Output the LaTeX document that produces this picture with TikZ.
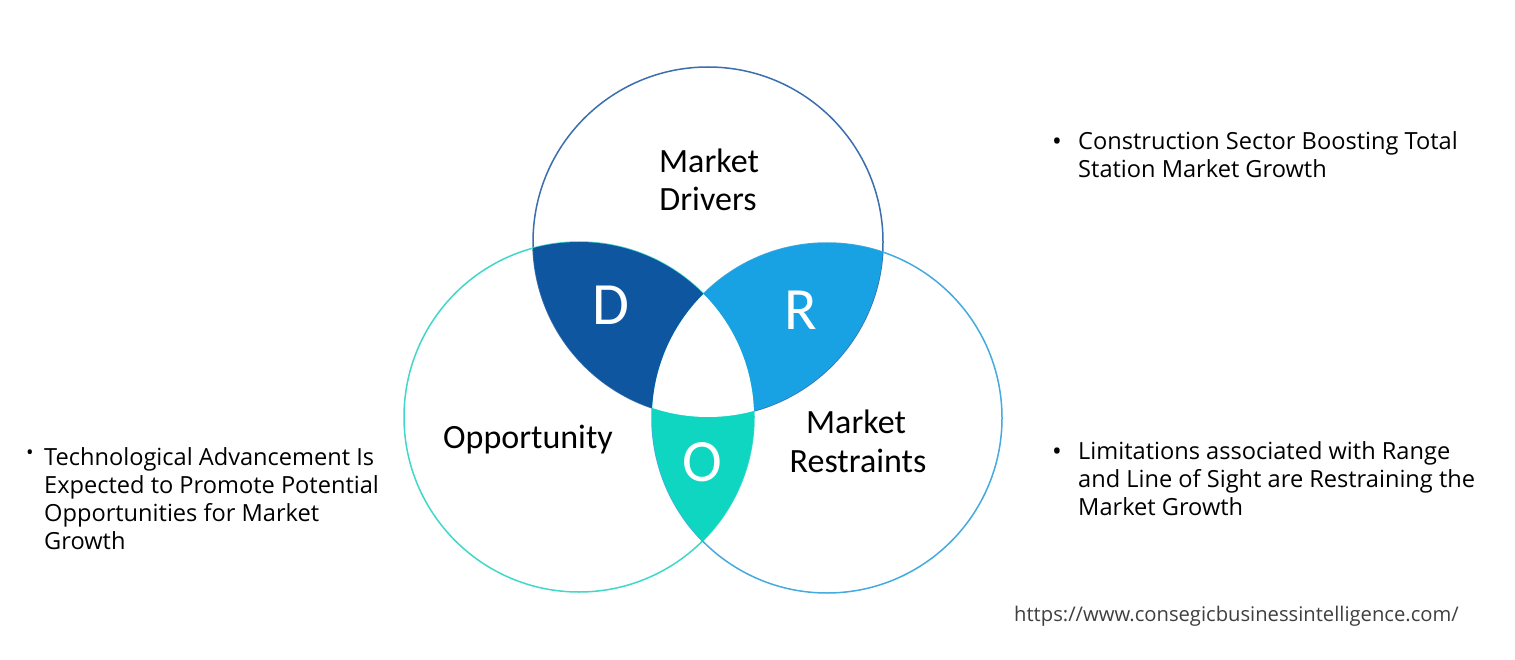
\documentclass[tikz,border=0pt]{standalone}
\usepackage{fontspec}
\setmainfont{Open Sans}
\newfontfamily\calib{Carlito}
\definecolor{dcol}{HTML}{0E56A0}
\definecolor{rcol}{HTML}{18A1E3}
\definecolor{ocol}{HTML}{0FD6C1}
\definecolor{topline}{HTML}{3A6EAE}
\definecolor{leftline}{HTML}{40D8C8}
\definecolor{rightline}{HTML}{45AADF}
\definecolor{urlgray}{HTML}{404040}
\tikzset{
  ring/.style={line width=1.5pt},
  vlabel/.style={anchor=base, inner sep=0pt, font=\calib\fontsize{34}{38}\selectfont, text=black},
  letter/.style={anchor=base, inner sep=0pt, font=\calib\fontsize{60}{60}\selectfont, text=white},
  bline/.style={anchor=base west, inner sep=0pt, font=\fontsize{23.6}{28}\selectfont, text=black},
  bdot/.style={anchor=base, inner sep=0pt, font=\fontsize{26}{28}\selectfont, text=black},
}
\begin{document}
\begin{tikzpicture}[x=1pt,y=-1pt]
\useasboundingbox (0,0) rectangle (1515,660);
\fill[white] (0,0) rectangle (1515,660);
\def\rr{175}
\coordinate (ct) at (708,242);
\coordinate (cl) at (579,417);
\coordinate (cr) at (827,418);
% outlines
\draw[ring, topline] (ct) circle[radius=\rr];
\draw[ring, leftline] (cl) circle[radius=\rr];
\draw[ring, rightline] (cr) circle[radius=\rr];
% fills
\begin{scope}\clip (ct) circle[radius=\rr]; \fill[dcol] (cl) circle[radius=\rr]; \end{scope}
\begin{scope}\clip (ct) circle[radius=\rr]; \fill[rcol] (cr) circle[radius=\rr]; \end{scope}
\begin{scope}\clip (cl) circle[radius=\rr]; \fill[ocol] (cr) circle[radius=\rr]; \end{scope}
\begin{scope}\clip (ct) circle[radius=\rr]; \clip (cl) circle[radius=\rr]; \fill[white] (cr) circle[radius=\rr]; \end{scope}
% circle labels
\node[vlabel] (md1) at (709,173) {Market};
\node[vlabel] (md2) at (708,211) {Drivers};
\node[vlabel] (opp) at (528,448) {Opportunity};
\node[vlabel] (mr1) at (856,433) {Market};
\node[vlabel] (mr2) at (858,472) {Restraints};
\node[letter] (ld) at (611,324) {D};
\node[letter] (lr) at (801,330) {R};
\node[letter] (lo) at (702,481) {O};
% right top bullet
\node[bdot] (b1) at (1057,151) {•};
\node[bline] (t1a) at (1078,150) {Construction Sector Boosting Total};
\node[bline] (t1b) at (1078,178) {Station Market Growth};
% left bullet
\node[bdot, font=\fontsize{20}{20}\selectfont] (b2) at (30,459) {•};
\node[bline] (t2a) at (44,465) {Technological Advancement Is};
\node[bline] (t2b) at (44,493) {Expected to Promote Potential};
\node[bline] (t2c) at (44,521) {Opportunities for Market};
\node[bline] (t2d) at (44,549) {Growth};
% right bottom bullet
\node[bdot] (b3) at (1057,460) {•};
\node[bline] (t3a) at (1078,459) {Limitations associated with Range};
\node[bline] (t3b) at (1078,487) {and Line of Sight are Restraining the};
\node[bline] (t3c) at (1078,515) {Market Growth};
% url
\node[anchor=base west, inner sep=0pt, font=\fontsize{20.2}{24}\selectfont, text=urlgray] (url) at (1014,621) {https://www.consegicbusinessintelligence.com/};
\end{tikzpicture}
\end{document}
